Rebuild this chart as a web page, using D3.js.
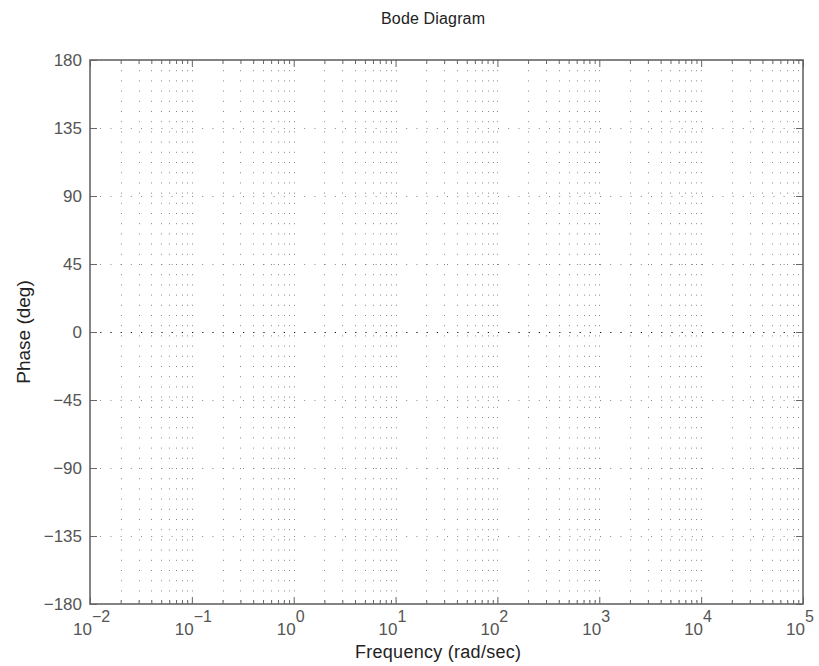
<!DOCTYPE html>
<html><head><meta charset="utf-8">
<script src="https://cdn.jsdelivr.net/npm/d3@7"></script>
<style>html,body{margin:0;padding:0;background:#fff;}svg{display:block;font-family:"Liberation Sans",Arial,Helvetica,sans-serif;}</style>
</head><body>
<script>
const title = "Bode Diagram";
const xLabel = "Frequency  (rad/sec)";
const yLabel = "Phase (deg)";
const xDomain = [1e-2, 1e5];
const yDomain = [-180, 180];
const decadeExponents = [-2, -1, 0, 1, 2, 3, 4, 5];
const yTicks = [-180, -135, -90, -45, 0, 45, 90, 135, 180];
const minorMultipliers = [2, 3, 4, 5, 6, 7, 8, 9];
// phase response (flat at 0 deg)
const phaseFreq = [1e-2, 1e5];
const phaseDeg = [0, 0];

const W = 819, H = 666;
const m = {left: 90, right: 16, top: 60, bottom: 62};
const svg = d3.select("body").append("svg").attr("width", W).attr("height", H);
const x = d3.scaleLog().domain(xDomain).range([m.left, W - m.right]);
const y = d3.scaleLinear().domain(yDomain).range([H - m.bottom, m.top]);
const x0 = x.range()[0], x1 = x.range()[1], y0 = y.range()[0], y1 = y.range()[1];

const majors = decadeExponents.map(e => Math.pow(10, e));
const minors = [];
decadeExponents.slice(0, -1).forEach(e => minorMultipliers.forEach(k => minors.push(k * Math.pow(10, e))));

const grid = svg.append("g").attr("stroke", "#888").attr("stroke-width", 1).attr("stroke-dasharray", "1,9.2");
grid.selectAll("line.v").data(majors.concat(minors).filter(v => v > xDomain[0] && v < xDomain[1])).join("line")
  .attr("x1", d => Math.round(x(d)) + 0.5).attr("x2", d => Math.round(x(d)) + 0.5)
  .attr("y1", y1).attr("y2", y0);
grid.selectAll("line.h").data(yTicks.filter(v => v > yDomain[0] && v < yDomain[1] && v !== 0)).join("line")
  .attr("x1", x0).attr("x2", x1)
  .attr("y1", d => Math.round(y(d)) + 0.5).attr("y2", d => Math.round(y(d)) + 0.5);

// phase curve
svg.append("path")
  .datum(phaseFreq.map((f, i) => [f, phaseDeg[i]]))
  .attr("fill", "none").attr("stroke", "#111").attr("stroke-width", 1.2)
  .attr("stroke-dasharray", "1.2,9")
  .attr("d", d3.line().x(d => x(d[0])).y(d => Math.round(y(d[1])) + 0.5));

const axisColor = "#666";
const fmt = () => "";
const bottomMajor = d3.axisBottom(x).tickValues(majors).tickSize(-7).tickFormat(fmt);
const bottomMinor = d3.axisBottom(x).tickValues(minors).tickSize(-4).tickFormat(fmt);
const topMajor = d3.axisTop(x).tickValues(majors).tickSize(-7).tickFormat(fmt);
const topMinor = d3.axisTop(x).tickValues(minors).tickSize(-4).tickFormat(fmt);
const leftAx = d3.axisLeft(y).tickValues(yTicks).tickSize(-7).tickFormat(fmt);
const rightAx = d3.axisRight(y).tickValues(yTicks).tickSize(-7).tickFormat(fmt);

function styleAxis(g) {
  g.select(".domain").remove();
  g.selectAll("line").attr("stroke", axisColor).attr("stroke-width", 1);
}
svg.append("g").attr("transform", `translate(0,${y0})`).call(bottomMajor).call(styleAxis);
svg.append("g").attr("transform", `translate(0,${y0})`).call(bottomMinor).call(styleAxis);
svg.append("g").attr("transform", `translate(0,${y1})`).call(topMajor).call(styleAxis);
svg.append("g").attr("transform", `translate(0,${y1})`).call(topMinor).call(styleAxis);
svg.append("g").attr("transform", `translate(${x0},0)`).call(leftAx).call(styleAxis);
svg.append("g").attr("transform", `translate(${x1},0)`).call(rightAx).call(styleAxis);

svg.append("rect").attr("x", x0).attr("y", y1).attr("width", x1 - x0).attr("height", y0 - y1)
  .attr("fill", "none").attr("stroke", axisColor).attr("stroke-width", 1.6);

// y tick labels
svg.append("g").selectAll("text").data(yTicks).join("text")
  .attr("x", x0 - 8).attr("y", d => y(d)).attr("dy", "0.35em")
  .attr("text-anchor", "end").attr("font-size", 17).attr("fill", "#555")
  .text(d => d < 0 ? "\u2212" + Math.abs(d) : d);

// x tick labels with superscripts
const xl = svg.append("g").selectAll("text").data(decadeExponents).join("text")
  .attr("x", d => x(Math.pow(10, d)) - 17).attr("y", y0 + 31)
  .attr("font-size", 17).attr("fill", "#555");
xl.append("tspan").text("10");
xl.append("tspan").attr("dy", -13).attr("font-size", 16)
  .text(d => d < 0 ? "\u2212" + Math.abs(d) : d);

svg.append("text").attr("x", 438).attr("y", 658).attr("text-anchor", "middle")
  .attr("font-size", 18).attr("fill", "#222").attr("textLength", 166).attr("lengthAdjust", "spacing").text(xLabel);
svg.append("text").attr("transform", `translate(30,${(y0 + y1) / 2}) rotate(-90)`)
  .attr("text-anchor", "middle").attr("font-size", 19).attr("fill", "#222").text(yLabel);
svg.append("text").attr("x", 433).attr("y", 24).attr("text-anchor", "middle")
  .attr("font-size", 16).attr("fill", "#222").attr("textLength", 104).attr("lengthAdjust", "spacing").text(title);
</script>
</body></html>
